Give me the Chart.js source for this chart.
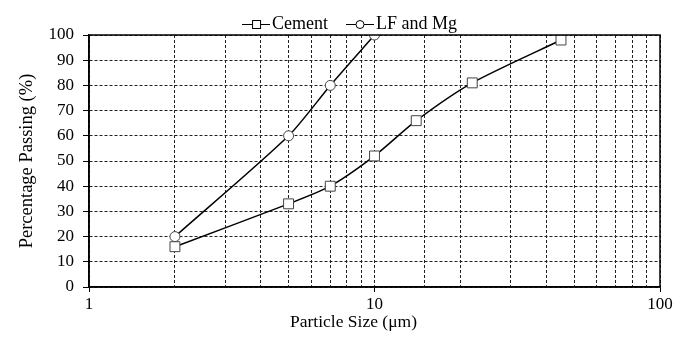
<!DOCTYPE html>
<html>
<head>
    <title>Particle size distribution</title>
    <script src="https://cdn.jsdelivr.net/npm/chart.js"></script>
    <style>
        body { margin: 0; background: #ffffff; }
        #wrap { width: 693px; height: 337px; }
    </style>
</head>
<body>
    <div id="wrap"><canvas id="psd"></canvas></div>
    <script>
        // data
        const cementSize = [2, 5, 7, 10, 14, 22, 45];
        const cementPassing = [16, 33, 40, 52, 66, 81, 98];
        const lfSize = [2, 5, 7, 10];
        const lfPassing = [20, 60, 80, 100];
        const xLabels = [1, 10, 100];

        const serif = '"Liberation Serif", "Times New Roman", serif';
        const tickFont = { family: serif, size: 17 };

        // small legend icon: line with a marker in the middle
        function legendIcon(shape) {
            const c = document.createElement('canvas');
            c.width = 28; c.height = 12;
            const g = c.getContext('2d');
            g.strokeStyle = '#000'; g.lineWidth = 1;
            g.beginPath(); g.moveTo(0, 6.5); g.lineTo(28, 6.5); g.stroke();
            g.fillStyle = '#fff';
            if (shape === 'rect') {
                g.fillRect(10, 2, 8, 8); g.strokeRect(10.5, 2.5, 8, 8);
            } else {
                g.beginPath(); g.arc(14, 6.5, 4, 0, Math.PI * 2); g.fill(); g.stroke();
            }
            return c;
        }
        const icons = [legendIcon('rect'), legendIcon('circle')];

        // box round the plot area, fixed legend height, small offsets like the original
        const frame = {
            id: 'frame',
            afterInit(chart) {
                const lg = chart.legend;
                const fit = lg.fit.bind(lg);
                lg.fit = function () { fit(); this.height = 35; };
                const draw = lg.draw.bind(lg);
                lg.draw = function () {
                    const t = this.top, h = this.height;
                    this.top = t - 10; this.height = h + 10;
                    chart.ctx.save();
                    chart.ctx.translate(17, 0);
                    draw();
                    chart.ctx.restore();
                    this.top = t; this.height = h;
                };
            },
            beforeDraw(chart) {
                const x = chart.scales.x;
                if (x && !x._moved) {
                    const drawTitle = x.drawTitle.bind(x);
                    x.drawTitle = function () {
                        chart.ctx.save();
                        chart.ctx.translate(-21, 0);
                        drawTitle();
                        chart.ctx.restore();
                    };
                    x._moved = true;
                }
            },
            afterDraw(chart) {
                const a = chart.chartArea, g = chart.ctx;
                g.save();
                g.strokeStyle = '#000'; g.lineWidth = 1.5;
                g.strokeRect(a.left, a.top, a.right - a.left, a.bottom - a.top);
                g.restore();
            }
        };

        new Chart(document.getElementById('psd'), {
            type: 'line',
            data: {
                datasets: [{
                    label: 'Cement',
                    data: cementSize.map((x, i) => ({ x: x, y: cementPassing[i] })),
                    borderColor: '#000', borderWidth: 1.5,
                    pointStyle: 'rect', pointRadius: 7, pointBorderWidth: 1,
                    pointBackgroundColor: '#fff', pointBorderColor: '#444',
                    tension: 0.25
                }, {
                    label: 'LF and Mg',
                    data: lfSize.map((x, i) => ({ x: x, y: lfPassing[i] })),
                    borderColor: '#000', borderWidth: 1.5,
                    pointStyle: 'circle', pointRadius: 5, pointBorderWidth: 1,
                    pointBackgroundColor: '#fff', pointBorderColor: '#444',
                    tension: 0.25
                }]
            },
            options: {
                responsive: true,
                maintainAspectRatio: false,
                animation: false,
                layout: { padding: { left: 12, right: 33, top: 0, bottom: 0 } },
                plugins: {
                    legend: {
                        position: 'top',
                        labels: {
                            font: { family: serif, size: 18 }, color: '#000',
                            usePointStyle: true, pointStyleWidth: 14,
                            boxHeight: 12, padding: 25,
                            generateLabels(chart) {
                                return chart.data.datasets.map((d, i) => ({
                                    text: d.label, pointStyle: icons[i],
                                    fillStyle: '#fff', strokeStyle: '#000',
                                    lineWidth: 0, fontColor: '#000', datasetIndex: i
                                }));
                            }
                        }
                    },
                    tooltip: { enabled: false }
                },
                scales: {
                    x: {
                        type: 'logarithmic', min: 1, max: 100,
                        afterFit(s) { s.height = 50; },
                        title: { display: true, text: 'Particle Size (μm)', font: { family: serif, size: 17.5 }, color: '#000', padding: { top: 0, bottom: 4 } },
                        ticks: {
                            font: tickFont, color: '#000', autoSkip: false, maxRotation: 0, padding: 2,
                            callback: v => xLabels.includes(v) ? String(v) : ''
                        },
                        grid: {
                            color: '#222', lineWidth: 1, tickLength: 5,
                            tickColor: c => (c.tick && xLabels.includes(c.tick.value)) ? '#000' : 'rgba(0,0,0,0)'
                        },
                        border: { display: true, color: '#000', width: 1.5, dash: [3, 2] }
                    },
                    y: {
                        min: 0, max: 100,
                        afterFit(s) { s.width = 77; },
                        title: { display: true, text: 'Percentage Passing (%)', font: { family: serif, size: 18.5 }, color: '#000' },
                        ticks: { font: tickFont, color: '#000', stepSize: 10, padding: 9 },
                        grid: { color: '#222', lineWidth: 1, tickLength: 6, tickColor: '#000' },
                        border: { display: true, color: '#000', width: 1.5, dash: [3, 2] }
                    }
                }
            },
            plugins: [frame]
        });
    </script>
</body>
</html>
